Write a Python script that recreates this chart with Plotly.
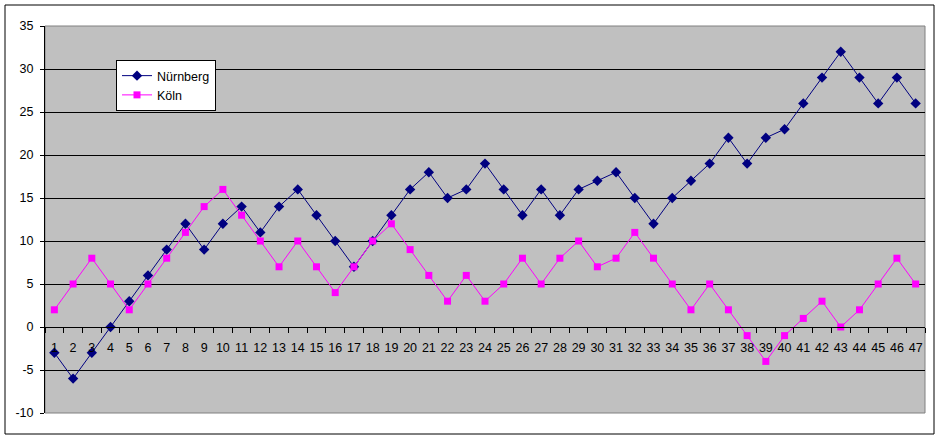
import plotly.graph_objects as go

categories = [str(i) for i in range(1, 48)]
nuernberg = [-3, -6, -3, 0, 3, 6, 9, 12, 9, 12, 14, 11, 14, 16, 13, 10, 7, 10, 13, 16,
             18, 15, 16, 19, 16, 13, 16, 13, 16, 17, 18, 15, 12, 15, 17, 19, 22, 19, 22, 23,
             26, 29, 32, 29, 26, 29, 26]
koeln = [2, 5, 8, 5, 2, 5, 8, 11, 14, 16, 13, 10, 7, 10, 7, 4, 7, 10, 12, 9,
         6, 3, 6, 3, 5, 8, 5, 8, 10, 7, 8, 11, 8, 5, 2, 5, 2, -1, -4, -1,
         1, 3, 0, 2, 5, 8, 5]
y_ticks = list(range(-10, 40, 5))
y_labels = [str(v) for v in y_ticks]

fig = go.Figure()
fig.add_trace(go.Scatter(x=categories, y=nuernberg, name="Nürnberg", mode="lines+markers",
                         line=dict(color="#000080", width=1),
                         marker=dict(symbol="diamond", size=8, color="#000080")))
fig.add_trace(go.Scatter(x=categories, y=koeln, name="Köln", mode="lines+markers",
                         line=dict(color="#FF00FF", width=1),
                         marker=dict(symbol="square", size=7, color="#FF00FF")))

L, R, T, B = 45, 15, 26, 26
W, H = 940, 439
pw, ph = W - L - R, H - T - B

fig.update_layout(
    width=W, height=H,
    margin=dict(l=L, r=R, t=T, b=B, autoexpand=False),
    paper_bgcolor="white", plot_bgcolor="#C0C0C0",
    font=dict(family="Liberation Sans, Arial, sans-serif", size=12.5, color="black"),
    showlegend=True,
    legend=dict(x=(116 - L) / pw, y=(413 - 60) / ph, xanchor="left", yanchor="top",
                bgcolor="white", bordercolor="black", borderwidth=1,
                font=dict(size=12.5), itemwidth=30, tracegroupgap=0),
    xaxis=dict(type="category", range=[-0.5, 46.5], showgrid=False,
               anchor="free", position=10 / 45, showline=True, linecolor="black", linewidth=1,
               ticks="outside", tickson="boundaries", ticklen=5, tickcolor="black",
               tickangle=0, tickfont=dict(size=12.5), zeroline=False, ticklabelstandoff=9),
    yaxis=dict(range=[-10, 35], tickvals=y_ticks, ticktext=y_labels,
               showgrid=True, gridcolor="black", gridwidth=1,
               showline=True, linecolor="black", linewidth=1, ticks="outside", ticklen=4,
               tickcolor="black", zeroline=False, tickfont=dict(size=12.5), ticklabelstandoff=4),
    shapes=[
        dict(type="rect", xref="paper", yref="paper", x0=0, x1=1, y0=0, y1=1,
             line=dict(color="#808080", width=1), layer="below"),
        dict(type="rect", xref="paper", yref="paper",
             x0=(5 - L) / pw, x1=(934 - L) / pw, y0=(413 - 434) / ph, y1=(413 - 5) / ph,
             line=dict(color="black", width=1)),
    ],
)

fig.write_html("out.html", config={"displayModeBar": False},
               post_script="document.body.style.margin='0';document.body.style.overflow='hidden';")
